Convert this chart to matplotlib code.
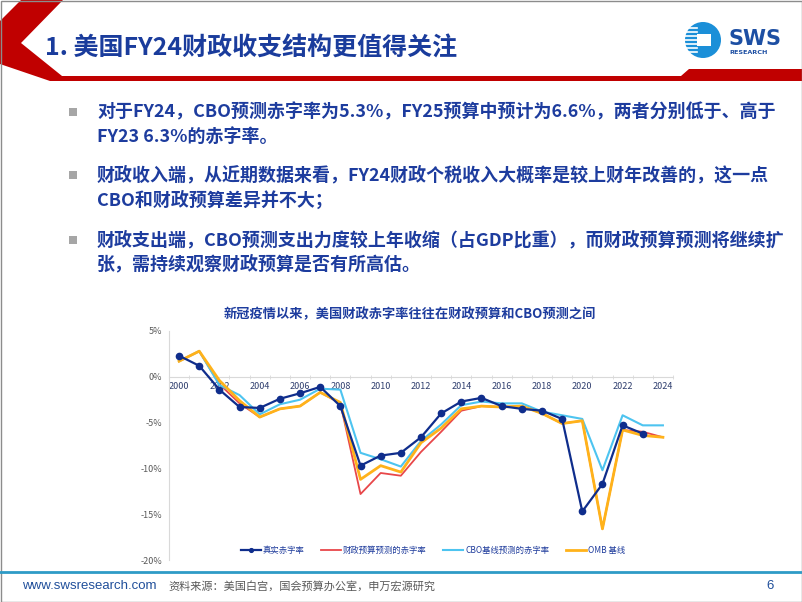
import numpy as np
import matplotlib.pyplot as plt
from matplotlib.patches import Polygon, Rectangle, Circle

plt.rcParams['font.family'] = ['Noto Sans CJK SC', 'DejaVu Sans']

# deficit as % of GDP
years = list(range(2000, 2025))
actual = [2.3, 1.2, -1.4, -3.3, -3.4, -2.4, -1.8, -1.1, -3.2, -9.7, -8.6, -8.3, -6.6,
          -4.0, -2.7, -2.3, -3.2, -3.5, -3.7, -4.6, -14.7, -11.7, -5.3, -6.2, np.nan]
budget = [1.7, 2.8, -0.8, -2.9, -4.4, -3.5, -3.2, -1.7, -2.9, -12.8, -10.5, -10.8, -8.2,
          -6.0, -3.7, -3.2, -3.3, -3.2, -4.0, -5.1, -4.8, -16.6, -5.8, -6.0, -6.6]
cbo = [1.7, 2.8, -0.9, -2.0, -4.1, -3.0, -2.5, -1.3, -1.4, -8.3, -9.0, -9.8, -7.0,
       -5.2, -3.1, -2.7, -2.9, -2.9, -3.8, -4.2, -4.6, -10.2, -4.2, -5.3, -5.3]
omb = [1.7, 2.8, -0.4, -2.6, -4.4, -3.5, -3.2, -1.7, -2.8, -11.2, -9.7, -10.4, -7.2,
       -5.6, -3.5, -3.2, -3.3, -3.2, -4.0, -5.1, -4.8, -16.6, -5.8, -6.4, -6.6]
series_names = ['真实赤字率', '财政预算预测的赤字率', 'CBO基线预测的赤字率', 'OMB 基线']

title = '1. 美国FY24财政收支结构更值得关注'
bullets = [
    ['对于FY24，CBO预测赤字率为5.3%，FY25预算中预计为6.6%，两者分别低于、高于',
     'FY23 6.3%的赤字率。'],
    ['财政收入端，从近期数据来看，FY24财政个税收入大概率是较上财年改善的，这一点',
     'CBO和财政预算差异并不大；'],
    ['财政支出端，CBO预测支出力度较上年收缩（占GDP比重），而财政预算预测将继续扩',
     '张，需持续观察财政预算是否有所高估。'],
]
chart_title = '新冠疫情以来，美国财政赤字率往往在财政预算和CBO预测之间'
source = '资料来源：美国白宫，国会预算办公室，申万宏源研究'

navy = '#0F2D8C'
textblue = '#1D3C9E'

fig = plt.figure(figsize=(8.02, 6.02), dpi=100)

# slide background drawn in pixel coords
bg = fig.add_axes([0, 0, 1, 1])
bg.set_xlim(0, 802)
bg.set_ylim(602, 0)
bg.axis('off')

# red chevron + header rule
bg.add_patch(Polygon([(21, 0), (63, 0), (21, 43), (62, 76), (681, 76), (689, 69),
                      (802, 69), (802, 81), (50, 81), (0, 64), (0, 21)],
                     closed=True, color='#C00000', lw=0))
bg.add_patch(Rectangle((0.5, 0.5), 801, 601, fill=False, ec='#8c8c8c', lw=1))
bg.text(45, 49, title, fontsize=18, fontweight='bold', color='#1A3C9C', va='center')

# logo
bg.add_patch(Circle((703, 40), 18, color='#1B8FD8', lw=0))
for yy in range(28, 54, 4):
    bg.plot([684, 697], [yy, yy], color='white', lw=1.2)
bg.add_patch(Rectangle((697, 34), 14, 12, color='white', lw=0))
bg.text(728, 39, 'SWS', fontsize=15, fontweight='bold', color='#1D4FA3',
        va='center', family='DejaVu Sans')
bg.text(729, 52, 'RESEARCH', fontsize=4.6, fontweight='bold', color='#1D4FA3',
        va='center', family='DejaVu Sans')

# bullets
line_y = [[112, 137], [175, 200], [240, 264]]
for lines, ys in zip(bullets, line_y):
    bg.add_patch(Rectangle((69, ys[0] - 4), 8, 8, color='#A6A6A6', lw=0))
    for t, yy in zip(lines, ys):
        bg.text(97, yy, t, fontsize=12.95, fontweight='bold', color=textblue, va='center')

bg.text(410, 314, chart_title, fontsize=9.5, fontweight='bold', color=textblue,
        ha='center', va='center')

# footer
bg.plot([0, 802], [572, 572], color='#2E9BC6', lw=2)
bg.text(22, 586, 'www.swsresearch.com', fontsize=9.5, color='#1F4E9A', va='center',
        family='Liberation Sans')
bg.text(168, 586, source, fontsize=8.0, color='#595959', va='center')
bg.text(766, 586, '6', fontsize=9.5, color='#1F4E9A', va='center', family='Liberation Sans')

# chart
ax = fig.add_axes([169 / 802, 1 - 560 / 602, (673 - 169) / 802, (560 - 331) / 602])
ax.patch.set_alpha(0)
ax.plot(years, budget, color='#E8474A', lw=1.3, label=series_names[1], zorder=2)
ax.plot(years, cbo, color='#4DC4F0', lw=1.5, label=series_names[2], zorder=3)
ax.plot(years, omb, color='#FFB21A', lw=2.0, label=series_names[3], zorder=4)
ax.plot(years, actual, color=navy, lw=1.6, marker='o', ms=4.5, label=series_names[0],
        zorder=5)

ax.set_xlim(1999.5, 2024.5)
ax.set_ylim(-20, 5)
ax.set_yticks([5, 0, -5, -10, -15, -20])
ax.set_yticklabels(['5%', '0%', '-5%', '-10%', '-15%', '-20%'])
ax.set_xticks(range(2000, 2025, 2))
ax.set_xticks(np.arange(1999.5, 2025, 1), minor=True)
ax.tick_params(axis='y', length=0, labelsize=6.5, labelcolor='#595959', pad=5)
ax.tick_params(axis='x', which='major', length=0, labelsize=6.5, labelcolor='#2F3E6E', pad=4)
ax.tick_params(axis='x', which='minor', length=3, direction='inout', color='#D9D9D9')
ax.spines['bottom'].set_position(('data', 0))
ax.spines['bottom'].set_color('#D9D9D9')
ax.spines['left'].set_color('#D9D9D9')
ax.spines['top'].set_visible(False)
ax.spines['right'].set_visible(False)

h, l = ax.get_legend_handles_labels()
order = [3, 0, 1, 2]
ax.legend([h[i] for i in order], [l[i] for i in order], loc='center',
          bbox_to_anchor=(433 / 802, 1 - 550 / 602), bbox_transform=fig.transFigure,
          ncol=4, frameon=False, fontsize=6, handlelength=2.4, handletextpad=0.2,
          columnspacing=2.0, markerscale=0.6, labelcolor='#1F3C9C')

fig.savefig('out.png', dpi=100)
